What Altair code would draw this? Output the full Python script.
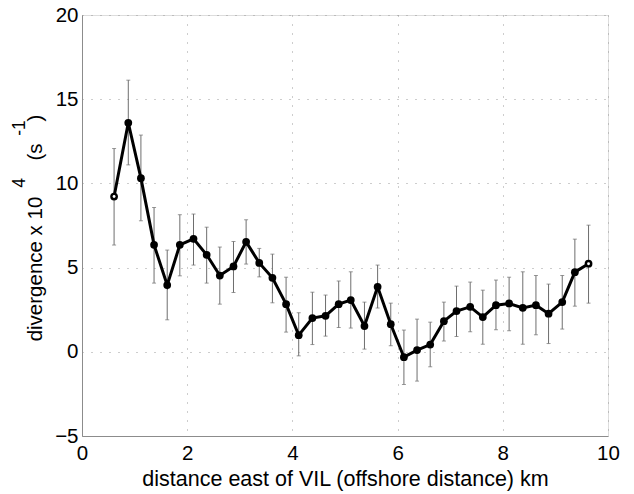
import altair as alt
import pandas as pd

# distance east of VIL (km)
distance = [0.61, 0.88, 1.12, 1.37, 1.62, 1.86, 2.12, 2.37, 2.62, 2.88, 3.12, 3.37,
            3.62, 3.88, 4.12, 4.38, 4.63, 4.88, 5.11, 5.37, 5.62, 5.87, 6.12, 6.37,
            6.62, 6.88, 7.12, 7.38, 7.62, 7.87, 8.12, 8.38, 8.63, 8.87, 9.13, 9.37, 9.63]
# divergence x 10^4 (s^-1)
divergence = [9.22, 13.6, 10.31, 6.35, 3.96, 6.35, 6.71, 5.76, 4.53, 5.07, 6.53, 5.28,
              4.39, 2.83, 0.99, 2.0, 2.14, 2.83, 3.07, 1.53, 3.86, 1.64, -0.32, 0.1,
              0.43, 1.82, 2.42, 2.67, 2.06, 2.77, 2.87, 2.61, 2.77, 2.26, 2.95, 4.73, 5.23]
upper = [12.07, 16.13, 12.87, 8.57, 6.04, 8.14, 8.18, 7.4, 6.22, 6.55, 7.84, 6.14,
         5.8, 4.43, 2.32, 3.54, 3.37, 4.2, 4.75, 2.95, 5.15, 2.89, 1.29, 1.94,
         1.76, 2.95, 3.9, 4.14, 3.66, 4.26, 4.43, 4.75, 4.53, 4.02, 4.53, 6.69, 7.52]
lower = [6.34, 11.1, 7.78, 4.08, 1.9, 4.51, 5.15, 4.08, 2.83, 3.52, 5.21, 4.45,
         2.91, 1.17, -0.24, 0.43, 0.93, 1.44, 1.41, 0.16, 2.6, 0.36, -1.94, -1.74,
         -0.89, 0.64, 0.91, 1.19, 0.45, 1.31, 1.25, 0.45, 1.01, 0.49, 1.35, 2.71, 2.89]

x_ticks = [0, 2, 4, 6, 8, 10]
y_ticks = [-5, 0, 5, 10, 15, 20]

FONT = "Liberation Sans"
GRID = "#9a9a9a"
FRAME = "#8c8c8c"

df = pd.DataFrame({"d": distance, "v": divergence, "hi": upper, "lo": lower})
df["end"] = [i == 0 or i == len(distance) - 1 for i in range(len(distance))]

xs = alt.Scale(domain=[0, 10], nice=False, zero=False)
ys = alt.Scale(domain=[-5, 20], nice=False, zero=False)

x_axis = alt.Axis(values=x_ticks, title="distance east of VIL (offshore distance) km",
                  labelFontSize=20.5, titleFontSize=21.5, labelFont=FONT, titleFont=FONT,
                  titleFontWeight="normal", labelColor="black", titleColor="black",
                  labelPadding=7, titlePadding=5, ticks=False, labelFlush=False,
                  domainColor=FRAME, gridColor=GRID, gridDash=[1, 8], gridOpacity=1,
                  labelOverlap=False)
y_axis = alt.Axis(values=y_ticks, title=None, labelFontSize=20.5, labelFont=FONT,
                  labelColor="black", labelPadding=4, ticks=False, labelFlush=False,
                  domainColor=FRAME, gridColor=GRID, gridDash=[1, 8], gridOpacity=1,
                  labelOverlap=False)

base = alt.Chart(df)

bars = base.mark_rule(color="#6e6e6e", strokeWidth=1).encode(
    x=alt.X("d:Q", scale=xs, axis=x_axis),
    y=alt.Y("lo:Q", scale=ys, axis=y_axis),
    y2="hi:Q",
)
cap_hi = base.mark_tick(orient="horizontal", color="#6e6e6e", size=4, thickness=1).encode(
    x=alt.X("d:Q", scale=xs), y=alt.Y("hi:Q", scale=ys))
cap_lo = base.mark_tick(orient="horizontal", color="#6e6e6e", size=4, thickness=1).encode(
    x=alt.X("d:Q", scale=xs), y=alt.Y("lo:Q", scale=ys))

line = base.mark_line(color="black", strokeWidth=3).encode(
    x=alt.X("d:Q", scale=xs), y=alt.Y("v:Q", scale=ys))
pts = base.mark_circle(color="black", size=60, opacity=1).encode(
    x=alt.X("d:Q", scale=xs), y=alt.Y("v:Q", scale=ys))
holes = base.transform_filter("datum.end").mark_circle(color="white", size=8, opacity=1).encode(
    x=alt.X("d:Q", scale=xs), y=alt.Y("v:Q", scale=ys))

one = pd.DataFrame({"k": [0]})


def label(txt, px, py, size):
    return alt.Chart(one).mark_text(text=txt, angle=270, fontSize=size, font=FONT,
                                    color="black", align="center",
                                    baseline="alphabetic").encode(
        x=alt.value(px), y=alt.value(py))


ytitle = (label("divergence x 10", -40, 254, 20.5)
          + label("4", -57, 168, 17.5)
          + label("(s", -40, 137, 20.5)
          + label("-1", -57, 113, 17.5)
          + label(")", -40, 103, 20.5))

chart = alt.layer(bars, cap_hi, cap_lo, line, pts, holes, ytitle).properties(
    width=526, height=421,
    autosize=alt.AutoSizeParams(type="none"),
    padding={"left": 82, "top": 15, "right": 26, "bottom": 58},
).configure_view(stroke=FRAME, strokeWidth=1).configure(background="white")

chart.save("out.html", embed_options={"renderer": "svg", "actions": False})
